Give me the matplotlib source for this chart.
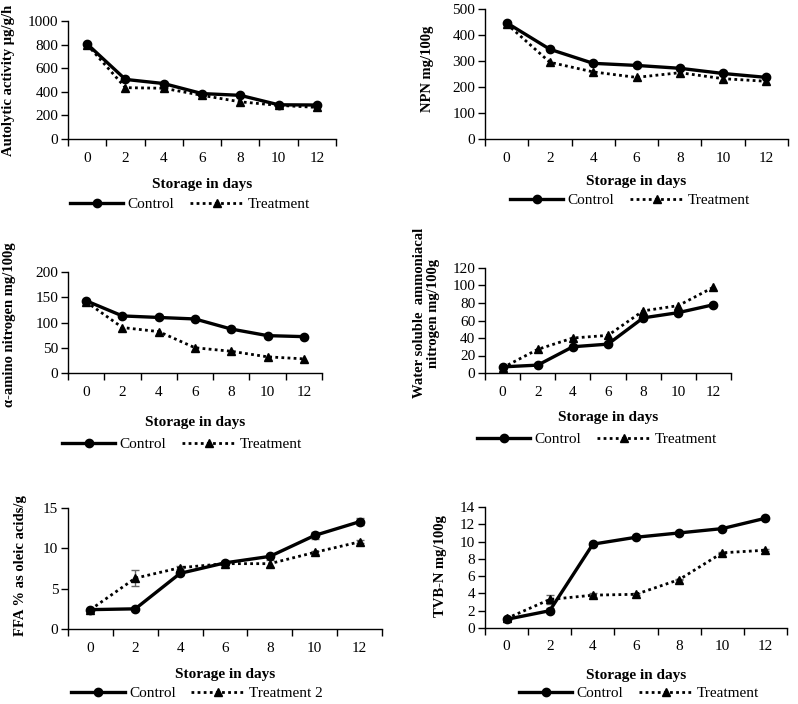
import matplotlib
matplotlib.use("Agg")
import matplotlib.pyplot as plt
import numpy as np

plt.rcParams['font.family'] = ['Liberation Serif', 'DejaVu Serif']

days = [0, 2, 4, 6, 8, 10, 12]

auto_control = [805, 505, 470, 385, 370, 290, 288]
auto_treat = [800, 435, 430, 370, 315, 285, 268]

npn_control = [447, 345, 291, 283, 272, 252, 237]
npn_treat = [443, 295, 258, 237, 255, 232, 222]

amino_control = [143, 113, 110, 107, 87, 74, 72]
amino_treat = [141, 90, 82, 50, 43, 32, 28]

ammon_control = [7, 9, 30, 33, 63, 69, 78]
ammon_treat = [6, 27, 40, 43, 71, 77, 98]

ffa_control = [2.4, 2.5, 6.9, 8.2, 9.0, 11.6, 13.3]
ffa_control_err = [0.1, 0.1, 0.2, 0.2, 0.2, 0.4, 0.4]
ffa_treat = [2.4, 6.3, 7.6, 8.1, 8.1, 9.5, 10.8]
ffa_treat_err = [0.1, 1.0, 0.2, 0.2, 0.4, 0.2, 0.2]

tvb_control = [1.0, 2.0, 9.7, 10.5, 11.0, 11.5, 12.7]
tvb_control_err = [0.1, 0.3, 0.1, 0.1, 0.1, 0.1, 0.1]
tvb_treat = [1.1, 3.3, 3.8, 3.9, 5.6, 8.7, 9.0]
tvb_treat_err = [0.1, 0.5, 0.2, 0.1, 0.1, 0.1, 0.1]

W, H = 798, 704
fig = plt.figure(figsize=(W / 100, H / 100), dpi=100)

panels = [
    dict(l=68, r=336, top=21, bot=139, ymax=1000, step=200, ylabel='Autolytic activity µg/g/h',
         lx=15, ly=80, xly=178, legy=204, legx=190, tname='Treatment',
         c=auto_control, t=auto_treat, ce=None, te=None),
    dict(l=485, r=788, top=9, bot=139, ymax=500, step=100, ylabel='NPN mg/100g',
         lx=434, ly=69, xly=175, legy=200, legx=630, tname='Treatment',
         c=npn_control, t=npn_treat, ce=None, te=None),
    dict(l=68, r=322, top=272, bot=373, ymax=200, step=50, ylabel='α-amino nitrogen mg/100g',
         lx=16, ly=325, xly=416, legy=444, legx=182, tname='Treatment',
         c=amino_control, t=amino_treat, ce=None, te=None),
    dict(l=485, r=731, top=268, bot=373, ymax=120, step=20,
         ylabel='Water soluble  ammoniacal\nnitrogen mg/100g',
         lx=440, ly=313, xly=411, legy=439, legx=597, tname='Treatment',
         c=ammon_control, t=ammon_treat, ce=None, te=None),
    dict(l=68, r=382, top=508, bot=629, ymax=15, step=5, ylabel='FFA % as oleic acids/g',
         lx=27, ly=566, xly=668, legy=693, legx=197, tname='Treatment 2',
         c=ffa_control, t=ffa_treat, ce=ffa_control_err, te=ffa_treat_err),
    dict(l=485, r=787, top=507, bot=628, ymax=14, step=2, ylabel='TVB-N mg/100g',
         lx=447, ly=566, xly=669, legy=693, legx=639, tname='Treatment',
         c=tvb_control, t=tvb_treat, ce=tvb_control_err, te=tvb_treat_err),
]

x = np.arange(len(days))

for p in panels:
    ax = fig.add_axes([p['l'] / W, 1 - p['bot'] / H, (p['r'] - p['l']) / W, (p['bot'] - p['top']) / H])
    lc, = ax.plot(x, p['c'], color='black', lw=2.4, marker='o', ms=6, label='Control', zorder=3)
    lt, = ax.plot(x, p['t'], color='black', lw=2.0, ls=(0, (1, 1.2)), marker='^', ms=6,
                  label=p['tname'], zorder=3)
    if p['ce'] is not None:
        ax.errorbar(x, p['c'], yerr=p['ce'], fmt='none', ecolor='#666666', elinewidth=1, capsize=3, zorder=2)
        ax.errorbar(x, p['t'], yerr=p['te'], fmt='none', ecolor='#666666', elinewidth=1, capsize=3, zorder=2)
    ax.set_xlim(-0.5, len(days) - 0.5)
    ax.set_ylim(0, p['ymax'])
    ax.set_yticks(np.arange(0, p['ymax'] + p['step'] / 2, p['step']))
    ax.set_xticks(x)
    ax.set_xticklabels([str(d) for d in days])
    ax.set_xticks(np.arange(-0.5, len(days)), minor=True)
    ax.tick_params(axis='x', which='major', length=0, labelsize=11, pad=9)
    ax.tick_params(axis='x', which='minor', length=5, width=1, direction='out')
    ax.tick_params(axis='y', which='major', length=5, width=1, direction='out', labelsize=11, pad=2)
    for s in ['top', 'right']:
        ax.spines[s].set_visible(False)
    for s in ['left', 'bottom']:
        ax.spines[s].set_linewidth(1)
    ax.set_xlabel('Storage in days', fontsize=11, fontweight='bold')
    ax.xaxis.set_label_coords(((p['l'] + p['r']) / 2) / W, 1 - p['xly'] / H, transform=fig.transFigure)
    ax.set_ylabel(p['ylabel'], fontsize=10.5, fontweight='bold', linespacing=1.1)
    ax.yaxis.set_label_coords(p['lx'] / W, 1 - p['ly'] / H, transform=fig.transFigure)
    fig.legend(handles=[lc, lt], loc='center', bbox_to_anchor=(p['legx'] / W, 1 - p['legy'] / H),
               bbox_transform=fig.transFigure, ncol=2, frameon=False, fontsize=11,
               handlelength=3.5, columnspacing=1.0, handletextpad=0.3, borderpad=0)

fig.savefig('out.png', dpi=100)
